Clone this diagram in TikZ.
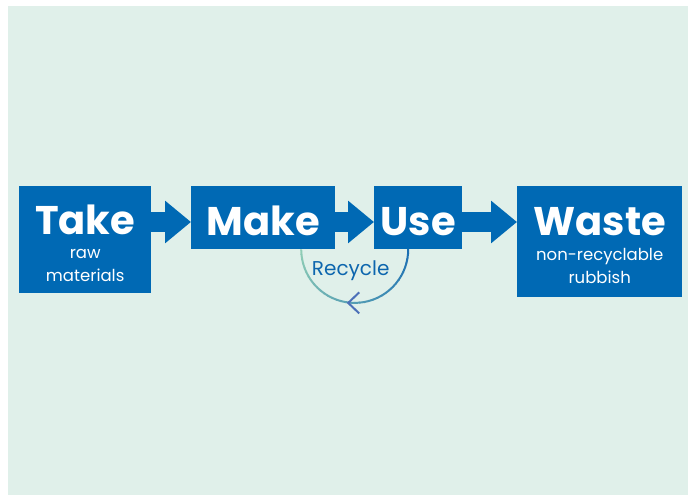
\documentclass[tikz,border=0pt]{standalone}
\usepackage{fontspec}
\setmainfont{Poppins}
\usetikzlibrary{arrows.meta,calc}
\definecolor{boxblue}{HTML}{0069B4}
\definecolor{mint}{HTML}{E0F0EA}
\definecolor{cycteal}{HTML}{8FCDB5}
\definecolor{cycblue}{HTML}{1B6FB3}
\definecolor{tipblue}{HTML}{4C70B8}
\definecolor{labelblue}{HTML}{0D66AE}
\newcommand\titlefont{\fontsize{40}{44}\selectfont\bfseries\rule{0pt}{36pt}}
\newcommand\subfont{\fontsize{16.5}{23}\selectfont}
\tikzset{box/.style={fill=boxblue,text=white,anchor=north west,inner sep=0pt,align=center,font=\subfont},edge/.style={-{Triangle[width=41pt,length=26pt]},line width=20pt,draw=boxblue}}

\begin{document}
\begin{tikzpicture}[x=1pt,y=-1pt]
\useasboundingbox (0,0) rectangle (688,497);
\fill[mint] (8,6) rectangle (688,495);
\node[box,minimum width=132pt,minimum height=107pt] (take) at (19,186) {{\titlefont Take}\\[1pt]raw\\materials};
\node[box,minimum width=144pt,minimum height=63pt] (make) at (191,186) {\titlefont Make};
\node[box,minimum width=88pt,minimum height=63pt] (use) at (374,186) {\titlefont Use};
\node[box,minimum width=165pt,minimum height=111pt] (waste) at (517,186) {{\titlefont Waste}\\[2pt]non-recyclable\\rubbish};
\draw[edge]([yshift=-36pt]take.north east)--([yshift=-36pt]make.north west);
\draw[edge]([yshift=-36pt]make.north east)--([yshift=-36pt]use.north west);
\draw[edge]([yshift=-36pt]use.north east)--([yshift=-36pt]waste.north west);
% recycle loop under make and use
\coordinate (hub) at ($(make.south east)!0.5!(use.south west)$);
\foreach \i in {0,...,35}{
  \pgfmathsetmacro\pc{100*\i/35}
  \draw[cycblue!\pc!cycteal,line width=2pt] ($(hub)+(180+5*\i:53.5pt)$) arc[start angle=180+5*\i,end angle=185.5+5*\i,radius=53.5pt];
}
\draw[tipblue,line width=2pt] ($(hub)+(4.5pt,-43pt)$)--($(hub)+(-6.5pt,-53.5pt)$)--($(hub)+(4.5pt,-64pt)$);
\node[text=labelblue,font=\fontsize{20}{24}\selectfont] (recycle) at ($(hub)+(-4pt,-21pt)$) {Recycle};
\end{tikzpicture}
\end{document}
